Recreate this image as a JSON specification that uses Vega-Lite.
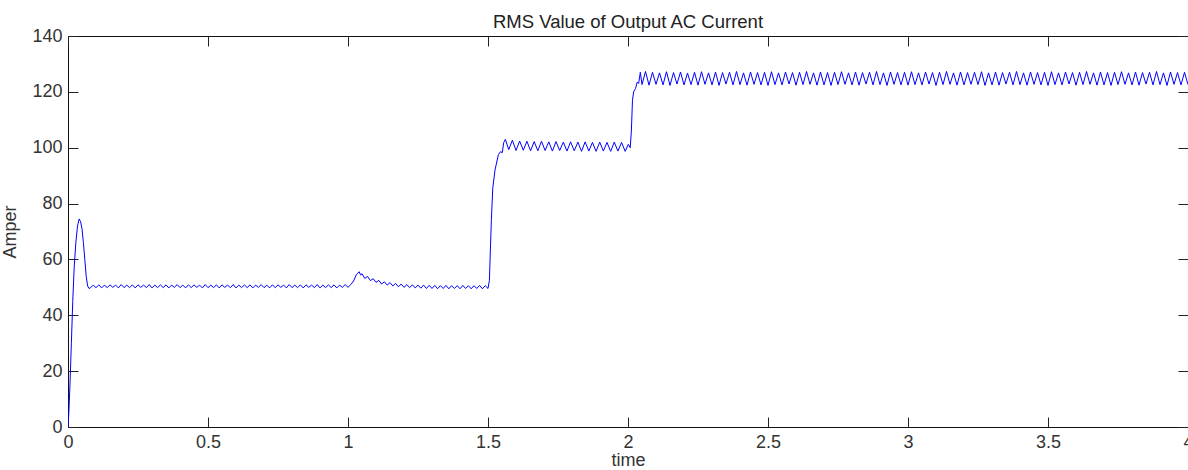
{
  "$schema": "https://vega.github.io/schema/vega-lite/v6.json",
  "width": 1120,
  "height": 391,
  "autosize": "none",
  "padding": {"left": 68, "top": 36, "right": 0, "bottom": 43},
  "background": "#ffffff",
  "title": {"text": "RMS Value of Output AC Current", "font": "Liberation Sans", "fontSize": 18.5, "fontWeight": "normal", "color": "#222", "anchor": "middle", "baseline": "alphabetic", "offset": 2, "dy": 21},
  "data": {"values": [
    {"t":0,"a":0},{"t":0.003,"a":5},{"t":0.007,"a":15},{"t":0.012,"a":30},{"t":0.017,"a":45},{"t":0.022,"a":57},{"t":0.028,"a":66},{"t":0.034,"a":72},{"t":0.04,"a":74.5},{"t":0.045,"a":73.5},{"t":0.05,"a":71},{"t":0.055,"a":66},{"t":0.06,"a":60},{"t":0.065,"a":54},{"t":0.07,"a":50.5},{"t":0.075,"a":49.6},
    {"t":0.08,"a":49.8},{"t":0.09,"a":50.8},{"t":0.10,"a":49.9},{"t":0.11,"a":50.9},{"t":0.12,"a":49.8},{"t":0.13,"a":50.8},{"t":0.14,"a":49.9},{"t":0.15,"a":50.9},{"t":0.16,"a":50.0},{"t":0.17,"a":50.8},{"t":0.18,"a":49.8},{"t":0.19,"a":51.0},{"t":0.20,"a":49.9},{"t":0.21,"a":50.8},{"t":0.22,"a":49.9},{"t":0.23,"a":50.9},{"t":0.24,"a":49.8},{"t":0.25,"a":50.9},{"t":0.26,"a":50.0},{"t":0.27,"a":50.8},{"t":0.28,"a":49.9},{"t":0.29,"a":51.0},{"t":0.30,"a":49.8},{"t":0.31,"a":50.8},{"t":0.32,"a":49.9},{"t":0.33,"a":50.9},{"t":0.34,"a":49.9},{"t":0.35,"a":50.9},{"t":0.36,"a":49.8},{"t":0.37,"a":50.8},{"t":0.38,"a":50.0},{"t":0.39,"a":51.0},{"t":0.40,"a":49.9},{"t":0.41,"a":50.8},{"t":0.42,"a":49.8},{"t":0.43,"a":50.9},{"t":0.44,"a":49.9},{"t":0.45,"a":50.9},{"t":0.46,"a":50.0},{"t":0.47,"a":50.8},{"t":0.48,"a":49.8},{"t":0.49,"a":51.0},{"t":0.50,"a":49.9},{"t":0.51,"a":50.8},{"t":0.52,"a":49.9},{"t":0.53,"a":50.9},{"t":0.54,"a":49.8},{"t":0.55,"a":50.9},{"t":0.56,"a":50.0},{"t":0.57,"a":50.8},{"t":0.58,"a":49.9},{"t":0.59,"a":51.0},{"t":0.60,"a":49.8},{"t":0.61,"a":50.8},{"t":0.62,"a":49.9},{"t":0.63,"a":50.9},{"t":0.64,"a":49.9},{"t":0.65,"a":50.9},{"t":0.66,"a":49.8},{"t":0.67,"a":50.8},{"t":0.68,"a":50.0},{"t":0.69,"a":51.0},{"t":0.70,"a":49.9},{"t":0.71,"a":50.8},{"t":0.72,"a":49.8},{"t":0.73,"a":50.9},{"t":0.74,"a":49.9},{"t":0.75,"a":50.9},{"t":0.76,"a":50.0},{"t":0.77,"a":50.8},{"t":0.78,"a":49.8},{"t":0.79,"a":51.0},{"t":0.80,"a":49.9},{"t":0.81,"a":50.8},{"t":0.82,"a":49.9},{"t":0.83,"a":50.9},{"t":0.84,"a":49.8},{"t":0.85,"a":50.9},{"t":0.86,"a":50.0},{"t":0.87,"a":50.8},{"t":0.88,"a":49.9},{"t":0.89,"a":51.0},{"t":0.90,"a":49.8},{"t":0.91,"a":50.8},{"t":0.92,"a":49.9},{"t":0.93,"a":50.9},{"t":0.94,"a":49.9},{"t":0.95,"a":50.9},{"t":0.96,"a":49.8},{"t":0.97,"a":50.8},{"t":0.98,"a":50.0},{"t":0.99,"a":51.0},{"t":1.00,"a":50.0},{"t":1.01,"a":51.0},
    {"t":1.02,"a":52.3},{"t":1.03,"a":54.6},{"t":1.04,"a":55.6},{"t":1.045,"a":54.4},{"t":1.05,"a":54.9},{"t":1.06,"a":53.2},{"t":1.07,"a":53.9},{"t":1.08,"a":52.4},{"t":1.09,"a":53.1},{"t":1.10,"a":51.8},{"t":1.11,"a":52.5},{"t":1.12,"a":51.2},{"t":1.13,"a":52.0},{"t":1.14,"a":50.8},{"t":1.15,"a":51.7},{"t":1.16,"a":50.5},{"t":1.17,"a":51.4},{"t":1.18,"a":50.2},{"t":1.19,"a":51.2},{"t":1.20,"a":50.0},{"t":1.21,"a":51.0},{"t":1.22,"a":49.9},{"t":1.23,"a":50.9},{"t":1.24,"a":49.8},{"t":1.25,"a":50.8},{"t":1.26,"a":49.7},{"t":1.27,"a":50.8},{"t":1.28,"a":49.6},{"t":1.29,"a":50.7},{"t":1.30,"a":49.6},{"t":1.31,"a":50.7},{"t":1.32,"a":49.5},{"t":1.33,"a":50.6},{"t":1.34,"a":49.6},{"t":1.35,"a":50.7},{"t":1.36,"a":49.5},{"t":1.37,"a":50.6},{"t":1.38,"a":49.6},{"t":1.39,"a":50.6},{"t":1.40,"a":49.5},{"t":1.41,"a":50.7},{"t":1.42,"a":49.6},{"t":1.43,"a":50.6},{"t":1.44,"a":49.5},{"t":1.45,"a":50.6},{"t":1.46,"a":49.6},{"t":1.47,"a":50.7},{"t":1.48,"a":49.5},{"t":1.49,"a":50.6},{"t":1.50,"a":49.6},
    {"t":1.505,"a":52.5},{"t":1.508,"a":62},{"t":1.512,"a":74},{"t":1.517,"a":85.5},{"t":1.525,"a":92},{"t":1.537,"a":97.5},{"t":1.545,"a":98.6},{"t":1.551,"a":98.2},{"t":1.556,"a":101.8},
    {"t":1.562,"a":103.0},{"t":1.574,"a":99.3},{"t":1.587,"a":102.7},{"t":1.6,"a":99.0},{"t":1.613,"a":102.4},{"t":1.626,"a":99.1},{"t":1.639,"a":102.3},{"t":1.652,"a":98.9},{"t":1.665,"a":102.2},{"t":1.678,"a":98.9},{"t":1.691,"a":102.3},{"t":1.704,"a":99.0},{"t":1.717,"a":102.1},{"t":1.73,"a":98.8},{"t":1.743,"a":102.2},{"t":1.756,"a":99.0},{"t":1.769,"a":102.0},{"t":1.782,"a":98.8},{"t":1.795,"a":102.1},{"t":1.808,"a":98.9},{"t":1.821,"a":102.0},{"t":1.834,"a":98.7},{"t":1.847,"a":102.1},{"t":1.86,"a":98.8},{"t":1.873,"a":101.9},{"t":1.886,"a":98.7},{"t":1.899,"a":102.0},{"t":1.912,"a":98.8},{"t":1.925,"a":101.9},{"t":1.938,"a":98.7},{"t":1.951,"a":102.0},{"t":1.964,"a":98.8},{"t":1.977,"a":101.9},{"t":1.99,"a":98.7},{"t":2.001,"a":101.2},{"t":2.008,"a":100.0},
    {"t":2.012,"a":106},{"t":2.016,"a":117},{"t":2.02,"a":120},{"t":2.027,"a":121.2},{"t":2.033,"a":123.5},{"t":2.038,"a":123.0},{"t":2.044,"a":127.0},
    {"t":2.05,"a":122.6},{"t":2.0625,"a":127.3},{"t":2.075,"a":122.4},{"t":2.0875,"a":127.0},
    {"t":2.1,"a":122.7},{"t":2.1125,"a":126.8},{"t":2.125,"a":122.5},{"t":2.1375,"a":127.2},
    {"t":2.15,"a":122.3},{"t":2.1625,"a":126.9},{"t":2.175,"a":122.8},{"t":2.1875,"a":127.1},
    {"t":2.2,"a":122.5},{"t":2.2125,"a":126.7},{"t":2.225,"a":122.6},{"t":2.2375,"a":127.0},
    {"t":2.25,"a":122.4},{"t":2.2625,"a":127.2},{"t":2.275,"a":122.7},{"t":2.2875,"a":126.8},
    {"t":2.3,"a":122.5},{"t":2.3125,"a":127.1},{"t":2.325,"a":122.3},{"t":2.3375,"a":126.9},
    {"t":2.35,"a":122.8},{"t":2.3625,"a":127.0},{"t":2.375,"a":122.5},{"t":2.3875,"a":127.3},
    {"t":2.4,"a":122.6},{"t":2.4125,"a":126.8},{"t":2.425,"a":122.4},{"t":2.4375,"a":127.1},
    {"t":2.45,"a":122.7},{"t":2.4625,"a":126.9},{"t":2.475,"a":122.5},{"t":2.4875,"a":127.0},
    {"t":2.5,"a":122.3},{"t":2.5125,"a":127.2},{"t":2.525,"a":122.6},{"t":2.5375,"a":126.8},
    {"t":2.55,"a":122.5},{"t":2.5625,"a":127.1},{"t":2.575,"a":122.8},{"t":2.5875,"a":126.9},
    {"t":2.6,"a":122.4},{"t":2.6125,"a":127.0},{"t":2.625,"a":122.6},{"t":2.6375,"a":127.3},
    {"t":2.65,"a":122.7},{"t":2.6625,"a":126.8},{"t":2.675,"a":122.4},{"t":2.6875,"a":127.1},
    {"t":2.7,"a":122.5},{"t":2.7125,"a":126.9},{"t":2.725,"a":122.3},{"t":2.7375,"a":127.0},
    {"t":2.75,"a":122.6},{"t":2.7625,"a":127.2},{"t":2.775,"a":122.7},{"t":2.7875,"a":126.8},
    {"t":2.8,"a":122.5},{"t":2.8125,"a":127.1},{"t":2.825,"a":122.4},{"t":2.8375,"a":126.9},
    {"t":2.85,"a":122.8},{"t":2.8625,"a":127.0},{"t":2.875,"a":122.5},{"t":2.8875,"a":127.3},
    {"t":2.9,"a":122.6},{"t":2.9125,"a":126.8},{"t":2.925,"a":122.3},{"t":2.9375,"a":127.1},
    {"t":2.95,"a":122.7},{"t":2.9625,"a":126.9},{"t":2.975,"a":122.5},{"t":2.9875,"a":127.0},
    {"t":3.0,"a":122.4},{"t":3.0125,"a":127.2},{"t":3.025,"a":122.6},{"t":3.0375,"a":126.8},
    {"t":3.05,"a":122.5},{"t":3.0625,"a":127.1},{"t":3.075,"a":122.8},{"t":3.0875,"a":126.9},
    {"t":3.1,"a":122.3},{"t":3.1125,"a":127.0},{"t":3.125,"a":122.6},{"t":3.1375,"a":127.3},
    {"t":3.15,"a":122.7},{"t":3.1625,"a":126.8},{"t":3.175,"a":122.4},{"t":3.1875,"a":127.1},
    {"t":3.2,"a":122.5},{"t":3.2125,"a":126.9},{"t":3.225,"a":122.7},{"t":3.2375,"a":127.0},
    {"t":3.25,"a":122.6},{"t":3.2625,"a":127.2},{"t":3.275,"a":122.3},{"t":3.2875,"a":126.8},
    {"t":3.3,"a":122.5},{"t":3.3125,"a":127.1},{"t":3.325,"a":122.4},{"t":3.3375,"a":126.9},
    {"t":3.35,"a":122.8},{"t":3.3625,"a":127.0},{"t":3.375,"a":122.5},{"t":3.3875,"a":127.3},
    {"t":3.4,"a":122.6},{"t":3.4125,"a":126.8},{"t":3.425,"a":122.4},{"t":3.4375,"a":127.1},
    {"t":3.45,"a":122.7},{"t":3.4625,"a":126.9},{"t":3.475,"a":122.5},{"t":3.4875,"a":127.0},
    {"t":3.5,"a":122.3},{"t":3.5125,"a":127.2},{"t":3.525,"a":122.6},{"t":3.5375,"a":126.8},
    {"t":3.55,"a":122.5},{"t":3.5625,"a":127.1},{"t":3.575,"a":122.8},{"t":3.5875,"a":126.9},
    {"t":3.6,"a":122.4},{"t":3.6125,"a":127.0},{"t":3.625,"a":122.6},{"t":3.6375,"a":127.3},
    {"t":3.65,"a":122.7},{"t":3.6625,"a":126.8},{"t":3.675,"a":122.4},{"t":3.6875,"a":127.1},
    {"t":3.7,"a":122.5},{"t":3.7125,"a":126.9},{"t":3.725,"a":122.3},{"t":3.7375,"a":127.0},
    {"t":3.75,"a":122.6},{"t":3.7625,"a":127.2},{"t":3.775,"a":122.7},{"t":3.7875,"a":126.8},
    {"t":3.8,"a":122.5},{"t":3.8125,"a":127.1},{"t":3.825,"a":122.4},{"t":3.8375,"a":126.9},
    {"t":3.85,"a":122.8},{"t":3.8625,"a":127.0},{"t":3.875,"a":122.5},{"t":3.8875,"a":127.3},
    {"t":3.9,"a":122.6},{"t":3.9125,"a":126.8},{"t":3.925,"a":122.3},{"t":3.9375,"a":127.1},
    {"t":3.95,"a":122.7},{"t":3.9625,"a":126.9},{"t":3.975,"a":122.5},{"t":3.9875,"a":127.0},
    {"t":4.0,"a":122.6}
  ]},
  "layer": [
    {
      "mark": {"type": "line", "color": "#0000ff", "strokeWidth": 1, "clip": true},
      "encoding": {
        "x": {"field": "t", "type": "quantitative", "scale": {"domain": [0, 4], "nice": false, "zero": false},
              "axis": {"orient": "bottom", "title": "time", "values": [0,0.5,1,1.5,2,2.5,3,3.5,4], "labelExpr": "'' + datum.value", "labelPadding": 16, "titlePadding": 0, "labelFlush": false}},
        "y": {"field": "a", "type": "quantitative", "scale": {"domain": [0, 140], "nice": false, "zero": false},
              "axis": {"orient": "left", "title": "Amper", "values": [0,20,40,60,80,100,120,140], "labelPadding": 16, "titlePadding": 12, "labelFlush": false}}
      }
    },
    {
      "mark": {"type": "line", "opacity": 0},
      "encoding": {
        "x": {"field": "t", "type": "quantitative", "scale": {"domain": [0, 4], "nice": false, "zero": false},
              "axis": {"orient": "top", "title": null, "labels": false, "values": [0,0.5,1,1.5,2,2.5,3,3.5,4]}},
        "y": {"field": "a", "type": "quantitative", "scale": {"domain": [0, 140], "nice": false, "zero": false},
              "axis": {"orient": "right", "title": null, "labels": false, "values": [0,20,40,60,80,100,120,140]}}
      }
    }
  ],
  "resolve": {"scale": {"x": "independent", "y": "independent"}, "axis": {"x": "independent", "y": "independent"}},
  "config": {
    "view": {"stroke": "#111", "strokeWidth": 1},
    "axis": {"grid": false, "domain": false, "ticks": true, "tickSize": -10, "tickColor": "#222", "tickWidth": 1,
             "labelFont": "Liberation Sans", "labelFontSize": 18, "labelColor": "#333",
             "titleFont": "Liberation Sans", "titleFontSize": 18, "titleFontWeight": "normal", "titleColor": "#333"}
  }
}
